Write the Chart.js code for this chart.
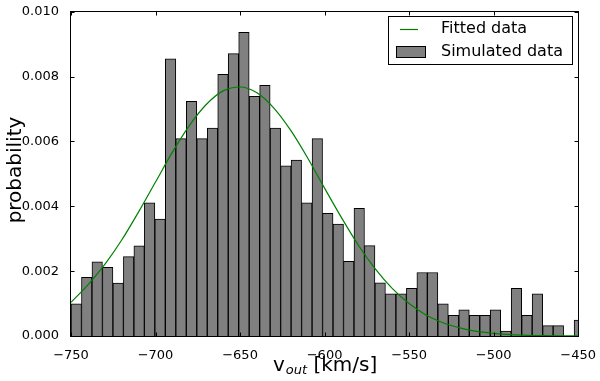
<!DOCTYPE html>
<html>
<head>
<meta charset="utf-8">
<script src="https://cdn.jsdelivr.net/npm/chart.js@4/dist/chart.umd.min.js"></script>
<style>
  html, body { margin: 0; padding: 0; background: #fff; }
  #wrap { width: 600px; height: 381px; position: relative; }
</style>
</head>
<body>
<div id="wrap"><canvas id="c" width="600" height="381"></canvas></div>
<script>
// Histogram bin centres (km/s)
const binCenters = [-746.9, -740.7, -734.5, -728.3, -722.1, -715.9, -709.7, -703.5, -697.3, -691.1,
  -684.9, -678.7, -672.5, -666.3, -660.1, -653.9, -647.7, -641.5, -635.3, -629.1,
  -622.9, -616.7, -610.5, -604.3, -598.1, -591.9, -585.7, -579.5, -573.3, -567.1,
  -560.9, -554.7, -548.5, -542.3, -536.1, -529.9, -523.7, -517.5, -511.3, -505.1,
  -498.9, -492.7, -486.5, -480.3, -474.1, -467.9, -461.7, -455.5, -449.3];
// Simulated data probability per bin
const simulated = [0.00099, 0.00181, 0.00229, 0.00212, 0.00163, 0.00245, 0.00278, 0.00411, 0.00361, 0.00855,
  0.00609, 0.00724, 0.00609, 0.00641, 0.00807, 0.00871, 0.00937, 0.00739, 0.00773, 0.00641,
  0.00525, 0.00543, 0.00411, 0.00609, 0.00378, 0.00345, 0.00230, 0.00394, 0.00279, 0.00164,
  0.00130, 0.00130, 0.00147, 0.00196, 0.00196, 0.00099, 0.00064, 0.00081, 0.00064, 0.00064,
  0.00081, 0.00015, 0.00147, 0.00064, 0.00130, 0.00032, 0.00032, 0, 0.00049];
// Fitted curve, read at 10 km/s steps
const fitX = [-750, -740, -730, -720, -710, -700, -690, -680, -670, -660, -650, -640, -630, -620, -610,
  -600, -590, -580, -570, -560, -550, -540, -530, -520, -510, -500, -490, -480, -470, -460, -450];
const fitY = [0.00104, 0.00158, 0.00221, 0.00296, 0.00383, 0.00475, 0.00567, 0.00649, 0.00714, 0.00756,
  0.00768, 0.00750, 0.00703, 0.00634, 0.00549, 0.00456, 0.00365, 0.00280, 0.00207, 0.00147,
  0.00100, 0.00065, 0.00041, 0.00025, 0.00014, 0.00008, 0.00004, 0.00002, 0.00001, 0.000005, 0.000002];
// Axis ticks
const xTicks = [-750, -700, -650, -600, -550, -500, -450];
const yTicks = [0, 0.002, 0.004, 0.006, 0.008, 0.010];
const labels = { fit: 'Fitted data', sim: 'Simulated data', y: 'probability' };

const FONT = '"DejaVu Sans", "Liberation Sans", sans-serif';

const framePlugin = {
  id: 'frame',
  afterDatasetsDraw(chart) {
    const { ctx, chartArea: a, scales: { x, y } } = chart;
    ctx.save();
    ctx.strokeStyle = '#000';
    ctx.lineWidth = 1;
    const L = Math.round(a.left) - 0.5, R = Math.round(a.right) + 0.5;
    const T = Math.round(a.top) - 0.5, B = Math.round(a.bottom) + 0.5;
    ctx.strokeRect(L, T, R - L, B - T);
    ctx.beginPath();
    xTicks.forEach(v => {
      const px = Math.round(x.getPixelForValue(v)) + 0.5;
      ctx.moveTo(px, B); ctx.lineTo(px, B - 4);
      ctx.moveTo(px, T); ctx.lineTo(px, T + 4);
    });
    yTicks.forEach(v => {
      const py = Math.round(y.getPixelForValue(v)) + 0.5;
      ctx.moveTo(L, py); ctx.lineTo(L + 4, py);
      ctx.moveTo(R, py); ctx.lineTo(R - 4, py);
    });
    ctx.stroke();

    // Legend
    const ds = chart.data.datasets;
    const lx = 388.5, ly = 16.5, lw = 184, lh = 48;
    ctx.fillStyle = '#fff';
    ctx.fillRect(lx, ly, lw, lh);
    ctx.strokeRect(lx, ly, lw, lh);
    ctx.strokeStyle = ds[0].borderColor;
    ctx.lineWidth = 1.2;
    ctx.beginPath();
    ctx.moveTo(400, 29.5); ctx.lineTo(418, 29.5);
    ctx.stroke();
    ctx.fillStyle = ds[1].backgroundColor;
    ctx.fillRect(396.5, 46.5, 29, 11);
    ctx.strokeStyle = '#000';
    ctx.lineWidth = 1;
    ctx.strokeRect(396.5, 46.5, 29, 11);
    ctx.fillStyle = '#000';
    ctx.font = '16px ' + FONT;
    ctx.textBaseline = 'middle';
    ctx.textAlign = 'left';
    ctx.fillText(ds[0].label, 441, 29);
    ctx.fillText(ds[1].label, 441, 52);
    ctx.restore();
  },
  afterDraw(chart) {
    const { ctx } = chart;
    ctx.save();
    ctx.fillStyle = '#000';
    // y-axis title
    ctx.translate(16, 170);
    ctx.rotate(-Math.PI / 2);
    ctx.font = '20px ' + FONT;
    ctx.textAlign = 'center';
    ctx.textBaseline = 'middle';
    ctx.fillText(labels.y, 0, 0);
    ctx.restore();
    // x-axis title: v_out [km/s]
    ctx.save();
    ctx.fillStyle = '#000';
    ctx.textAlign = 'left';
    ctx.textBaseline = 'alphabetic';
    let xx = 273;
    const base = 371;
    ctx.font = '20px ' + FONT;
    ctx.fillText('v', xx, base);
    xx += ctx.measureText('v').width + 1;
    ctx.font = 'italic 13px ' + FONT;
    ctx.fillText('out', xx, base + 3);
    xx += ctx.measureText('out').width;
    ctx.font = '20px ' + FONT;
    ctx.fillText(' [km/s]', xx, base);
    ctx.restore();
  }
};

new Chart(document.getElementById('c'), {
  type: 'bar',
  data: {
    datasets: [
      {
        type: 'line',
        label: labels.fit,
        data: fitX.map((v, i) => ({ x: v, y: fitY[i] })),
        borderColor: '#008000',
        borderWidth: 1.2,
        pointRadius: 0,
        cubicInterpolationMode: 'monotone',
        fill: false,
        clip: 0,
        order: 0
      },
      {
        type: 'bar',
        label: labels.sim,
        data: binCenters.map((v, i) => ({ x: v, y: simulated[i] })),
        backgroundColor: '#808080',
        borderColor: '#000',
        borderWidth: 1,
        borderSkipped: 'start',
        barPercentage: 1,
        categoryPercentage: 1,
        clip: 0,
        order: 1
      }
    ]
  },
  options: {
    responsive: false,
    devicePixelRatio: 1,
    animation: false,
    layout: { padding: { left: 0, right: 21, top: 8, bottom: 0 } },
    plugins: { legend: { display: false }, tooltip: { enabled: false } },
    scales: {
      x: {
        type: 'linear',
        offset: false,
        min: -750, max: -450,
        grid: { display: false, offset: false },
        border: { display: false },
        afterBuildTicks: s => { s.ticks = xTicks.map(v => ({ value: v })); },
        afterFit: s => { s.height = 45; },
        ticks: {
          padding: 4,
          color: '#000',
          font: { family: FONT, size: 13 },
          maxRotation: 0,
          callback: v => String(v).replace('-', '\u2212')
        }
      },
      y: {
        min: 0, max: 0.010,
        grid: { display: false },
        border: { display: false },
        afterBuildTicks: s => { s.ticks = yTicks.map(v => ({ value: v })); },
        afterFit: s => { s.width = 71; },
        ticks: {
          padding: 4,
          color: '#000',
          font: { family: FONT, size: 13 },
          callback: v => v.toFixed(3)
        }
      }
    }
  },
  plugins: [framePlugin]
});
</script>
</body>
</html>
